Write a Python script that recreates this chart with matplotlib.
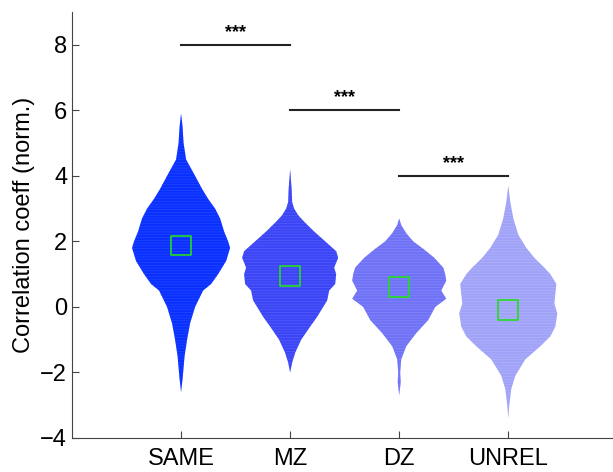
import numpy as np
import matplotlib.pyplot as plt

plt.rcParams['font.family'] = ['Liberation Sans', 'DejaVu Sans']
plt.rcParams['hatch.linewidth'] = 0.4

# categories and colours
groupes = ['SAME', 'MZ', 'DZ', 'UNREL']
couleurs = ['#0a30ff', '#3b45f6', '#6f72f6', '#a0a2f8']
rayures = ['#2a4cff', '#5a62f8', '#8a8cf8', '#b4b6fa']

# violin profiles : y level -> half width (in pixels of the original, scaled below)
same_y = [-2.6, -2.2, -1.5, -1.0, -0.5, 0.0, 0.5, 0.7, 1.0, 1.4, 1.8, 2.0, 2.3, 2.7, 3.0, 3.3, 3.6, 4.0, 4.5, 5.0, 5.5, 5.9]
same_w = [0, 1.5, 3.5, 6, 9, 14, 22, 30, 37, 45, 49, 47, 43, 39, 34, 27, 21, 14, 5, 2.5, 1.5, 0]

mz_y = [-2.0, -1.7, -1.4, -1.0, -0.6, -0.3, 0.0, 0.2, 0.5, 0.7, 1.0, 1.2, 1.5, 1.7, 2.0, 2.3, 2.6, 2.8, 3.0, 3.2, 3.6, 4.2]
mz_w = [0, 2, 5, 11, 20, 27, 33, 37, 39, 45, 46, 44, 48, 46, 35, 24, 14, 8, 4, 2, 1.5, 0]

dz_y = [-2.7, -2.3, -2.0, -1.6, -1.2, -0.8, -0.4, 0.0, 0.25, 0.5, 0.8, 1.0, 1.2, 1.5, 1.75, 2.0, 2.25, 2.5, 2.7]
dz_w = [0, 1.5, 1, 2, 7, 17, 29, 36, 47, 42, 47, 46, 44, 35, 25, 14, 7, 2, 0]

unrel_y = [-3.4, -3.0, -2.5, -2.1, -1.6, -1.2, -0.9, -0.6, -0.2, 0.1, 0.4, 0.7, 1.0, 1.2, 1.5, 1.8, 2.2, 2.7, 3.2, 3.7]
unrel_w = [0, 1, 3, 7, 17, 32, 42, 47, 49, 46, 47, 48, 42, 36, 26, 18, 10, 5, 2, 0]

# medians (green squares)
medianes = [1.87, 0.95, 0.60, -0.09]

# significance bars : (group a, group b, height)
comparaisons = [(1, 2, 8.0), (2, 3, 6.0), (3, 4, 4.0)]

profils = [(same_y, same_w), (mz_y, mz_w), (dz_y, dz_w), (unrel_y, unrel_w)]

fig = plt.figure(figsize=(6.13, 4.72), dpi=100)
ax = fig.add_axes([72 / 613, 1 - 438 / 472, 1 - 72 / 613, (438 - 12) / 472])

echelle = 109.0  # pixels per category unit
for i, (py, pw) in enumerate(profils):
    x0 = i + 1
    y = np.array(py)
    w = np.array(pw) / echelle
    ax.fill_betweenx(y, x0 - w, x0 + w, facecolor=couleurs[i], edgecolor=rayures[i],
                     hatch='------', linewidth=0)

ax.scatter(range(1, 5), medianes, marker='s', s=200, facecolors='none',
           edgecolors='#22dd22', linewidths=1.2, zorder=5)

for a, b, h in comparaisons:
    ax.plot([a, b], [h, h], color='#222222', linewidth=1.5)
    ax.text((a + b) / 2, h + 0.12, '***', ha='center', va='bottom', fontsize=13, fontweight='bold')

ax.set_xlim(0, 4.96)
ax.set_ylim(-4, 9)
ax.set_xticks(range(1, 5))
ax.set_xticklabels(groupes)
ax.set_yticks(range(-4, 9, 2))
ax.tick_params(direction='in', labelsize=17, length=5, color='#444444')
ax.tick_params(axis='x', pad=7)
ax.set_ylabel('Correlation coeff (norm.)', fontsize=17)
for cote in ['top', 'right']:
    ax.spines[cote].set_visible(False)
for cote in ['left', 'bottom']:
    ax.spines[cote].set_color('#444444')

fig.savefig('out.png', dpi=100)
